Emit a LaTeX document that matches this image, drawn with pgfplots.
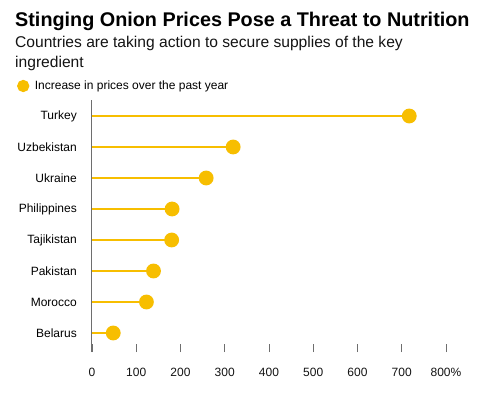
\documentclass[border=0pt]{standalone}
\usepackage{pgfplots}
\pgfplotsset{compat=1.18}
\usepackage{fontspec}
\setmainfont{Liberation Sans}
\definecolor{bbyellow}{RGB}{247,190,0}
\definecolor{axisgray}{RGB}{110,110,110}
\definecolor{txt}{RGB}{20,20,20}
\begin{document}
\begin{tikzpicture}
\path[use as bounding box, fill=white] (0pt,0pt) rectangle (504pt,405pt);
\node[anchor=base west, font=\bfseries\fontsize{19.8}{22}\selectfont, inner sep=0, text=black] at (15pt,378.5pt) {Stinging Onion Prices Pose a Threat to Nutrition};
\node[anchor=base west, font=\fontsize{15.6}{18}\selectfont, inner sep=0, text=txt] at (15pt,357.5pt) {Countries are taking action to secure supplies of the key};
\node[anchor=base west, font=\fontsize{15.6}{18}\selectfont, inner sep=0, text=txt] at (15pt,337.5pt) {ingredient};
\begin{axis}[
  at={(92pt,53pt)}, anchor=south west,
  scale only axis, width=354pt, height=252pt,
  xmin=0, xmax=800, ymin=0.387, ymax=8.516,
  axis x line*=bottom, axis y line*=left,
  x axis line style={draw=none},
  y axis line style={draw=axisgray, line width=1pt},
  axis on top,
  tick align=inside,
  xtick={0,100,...,800},
  xticklabels={0,100,200,300,400,500,600,700,800\%},
  xtick style={draw=axisgray, line width=0.9pt},
  x tick label style={font=\fontsize{12}{14}\selectfont, text=txt, inner sep=0pt, anchor=north, yshift=-15.5pt},
  major tick length=8pt,
  ytick={1,...,8},
  yticklabels={Belarus,Morocco,Pakistan,Tajikistan,Philippines,Ukraine,Uzbekistan,Turkey},
  ytick style={draw=none},
  y tick label style={font=\fontsize{12}{14}\selectfont, text=black, inner sep=0pt, anchor=east, xshift=-15pt},
  clip=false,
  legend style={at={(-0.2115,1.0556)}, anchor=west, draw=none, fill=none, inner sep=0pt, outer sep=0pt, font=\fontsize{12}{14}\selectfont, cells={anchor=west}, nodes={inner sep=0pt}, column sep=0pt},
  legend image code/.code={\fill[bbyellow] (5pt,0pt) circle (5pt); \path (15.5pt,0pt);},
]
\addplot[xcomb, draw=bbyellow, line width=2.2pt, mark=*, mark size=6.3pt, mark options={fill=bbyellow, draw=none}]
  coordinates {(48,1) (123,2) (139,3) (180,4) (181,5) (258,6) (319,7) (717,8)};
\addlegendentry{Increase in prices over the past year}
\end{axis}
\end{tikzpicture}
\end{document}
